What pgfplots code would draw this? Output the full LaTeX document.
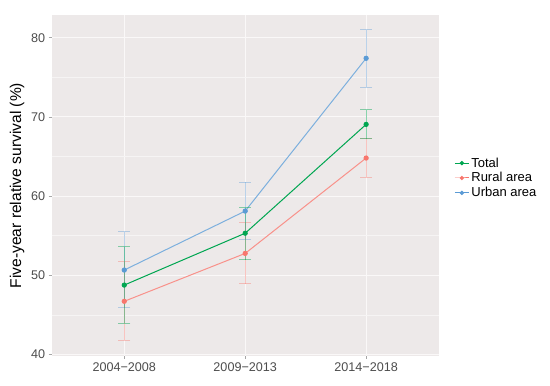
\documentclass[border=0pt]{standalone}
\usepackage{fontspec}
\setmainfont{Liberation Sans}
\usepackage{pgfplots}
\usepackage{pgfplotstable}
\pgfplotsset{compat=1.18}
\definecolor{panelbg}{HTML}{EDE9E9}
\definecolor{ctotal}{HTML}{00A651}
\definecolor{crural}{HTML}{F8766D}
\definecolor{curban}{HTML}{5B9BD5}
\definecolor{ticklab}{HTML}{4D4D4D}

\pgfplotstableread{
x y ep em
0 48.75 4.85 4.85
1 55.30 3.25 3.35
2 69.05 1.85 1.80
}\total
\pgfplotstableread{
x y ep em
0 46.70 5.00 4.90
1 52.75 3.85 3.85
2 64.80 2.45 2.40
}\rural
\pgfplotstableread{
x y ep em
0 50.65 4.85 4.75
1 58.10 3.65 3.55
2 77.40 3.60 3.65
}\urban

\begin{document}
\begin{tikzpicture}[x=1pt,y=1pt]
\path[use as bounding box, fill=white] (0,0) rectangle (550,386);
\begin{axis}[
  at={(51.7pt,30pt)}, anchor=south west,
  width=387pt, height=341pt, scale only axis,
  xmin=-0.6, xmax=2.6, ymin=39.79, ymax=82.87,
  xtick={0,1,2}, xticklabels={2004−2008,2009−2013,2014−2018},
  ytick={40,50,60,70,80}, minor ytick={45,55,65,75},
  grid=both,
  major grid style={white!70!panelbg, line width=0.9pt},
  minor grid style={white!50!panelbg, line width=0.5pt},
  axis background/.style={fill=panelbg},
  axis line style={draw=none},
  tick pos=left, tick align=outside,
  major tick length=3pt, minor tick length=0pt,
  tick style={ticklab!50, line width=0.5pt},
  ticklabel style={font=\fontsize{12.6}{14}\selectfont, text=ticklab},
  /pgf/number format/assume math mode=true,
  ylabel={Five-year relative survival (\%)},
  ylabel style={font=\fontsize{15.6}{18}\selectfont, text=black},
  legend style={at={(1.04,0.522)}, anchor=west, draw=none, fill=none,
    font=\fontsize{13}{15}\selectfont, row sep=0pt, inner sep=0pt},
  legend cell align=left,
  legend image code/.code={\draw[mark repeat=2,mark phase=2,#1] plot coordinates {(0pt,0pt) (7pt,0pt) (14pt,0pt)};},
  every axis plot/.append style={line width=1pt},
]
\addplot[curban!80!white, mark=*, mark size=2.1pt, mark options={curban}, forget plot,
  error bars/.cd, y dir=both, y explicit,
  error bar style={curban, opacity=0.4, line width=0.9pt},
  error mark options={rotate=90, mark size=6pt, line width=0.9pt, curban, opacity=0.4}]
  table[x=x, y=y, y error plus=ep, y error minus=em] {\urban};
\addplot[crural!80!white, mark=*, mark size=2.1pt, mark options={crural}, forget plot,
  error bars/.cd, y dir=both, y explicit,
  error bar style={crural, opacity=0.4, line width=0.9pt},
  error mark options={rotate=90, mark size=6pt, line width=0.9pt, crural, opacity=0.4}]
  table[x=x, y=y, y error plus=ep, y error minus=em] {\rural};
\addplot[ctotal, mark=*, mark size=2.1pt, forget plot,
  error bars/.cd, y dir=both, y explicit,
  error bar style={ctotal, opacity=0.45, line width=0.9pt},
  error mark options={rotate=90, mark size=6pt, line width=0.9pt, ctotal, opacity=0.45}]
  table[x=x, y=y, y error plus=ep, y error minus=em] {\total};
\addlegendimage{ctotal, mark=*, mark size=1.6pt}
\addlegendentry{Total}
\addlegendimage{crural, mark=*, mark size=1.6pt}
\addlegendentry{Rural area}
\addlegendimage{curban, mark=*, mark size=1.6pt}
\addlegendentry{Urban area}
\end{axis}
\end{tikzpicture}
\end{document}
